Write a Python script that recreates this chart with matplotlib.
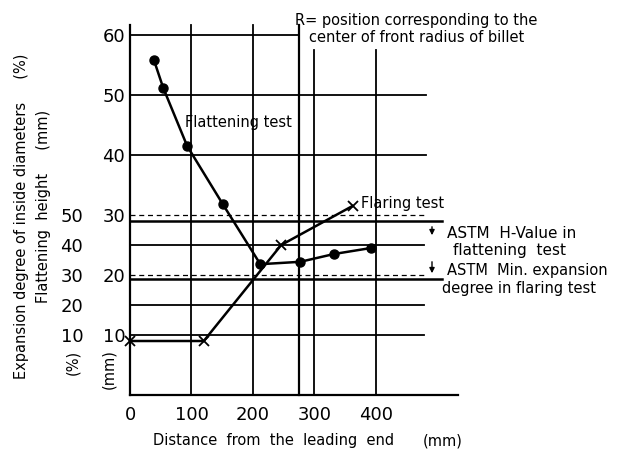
import matplotlib
matplotlib.use("Agg")
import matplotlib.pyplot as plt

# ---------------- data ----------------
flat_x = [39, 54, 93, 151, 212, 277, 332, 392]          # mm from leading end
flat_h = [55.8, 51.2, 41.5, 31.8, 21.8, 22.2, 23.5, 24.5]  # flattening height (mm)
flare_x = [0, 120, 246, 362]
flare_pct = [8, 8, 40, 53]                               # expansion degree (%)

x_ticks = [0, 100, 200, 300, 400]
mm_ticks = [10, 20, 30, 40, 50, 60]
pct_ticks = [10, 20, 30, 40, 50]

r_position = 275          # R = centre of front radius of billet
astm_h_mm = 29.0          # ASTM H-value in flattening test
astm_min_pct = 28.6       # ASTM min. expansion degree in flaring test


def pct_to_mm(p):
    return (p + 10) / 2.0


def mm_to_pct(m):
    return 2.0 * m - 10


W, H = 628, 454
fig = plt.figure(figsize=(W / 100, H / 100), dpi=100)
fig.patch.set_facecolor("white")

x0, x1 = 130, 457          # pixel span of x 0..532
y0, y1 = 395, 35           # pixel span of y 0..60 mm
ax = fig.add_axes([x0 / W, 1 - y0 / H, (x1 - x0) / W, (y0 - y1) / H])
ax.set_xlim(0, 532)
ax.set_ylim(0, 60)
for s in ax.spines.values():
    s.set_visible(False)

K = "black"
glw = 1.3
# frame lines
ax.plot([0, 0], [0, 61.7], color=K, lw=1.6, clip_on=False)
ax.plot([0, 533], [0, 0], color=K, lw=1.6, clip_on=False)
# vertical grid
for xv, top in [(100, 61.7), (200, 61.7), (300, 57.5), (400, 57.5)]:
    ax.plot([xv, xv], [0, top], color=K, lw=glw, clip_on=False)
ax.plot([r_position, r_position], [0, 61.7], color=K, lw=1.6, clip_on=False)
# horizontal grid
ax.plot([0, r_position], [60, 60], color=K, lw=glw, clip_on=False)
for yv, right in [(50, 482), (40, 482), (25, 478), (15, 479), (10, 479)]:
    ax.plot([0, right], [yv, yv], color=K, lw=glw, clip_on=False)
for yv in [30, 20]:
    ax.plot([0, 480], [yv, yv], color=K, lw=0.9, ls=(0, (4, 3)), clip_on=False)
# ASTM lines
ax.plot([0, 508], [astm_h_mm, astm_h_mm], color=K, lw=1.8, clip_on=False)
ax.plot([0, 508], [pct_to_mm(astm_min_pct)] * 2, color=K, lw=1.8, clip_on=False)

# flattening test
ax.plot(flat_x, flat_h, color=K, lw=1.8, zorder=3, clip_on=False)
ax.plot(flat_x, flat_h, ls="none", marker="o", ms=6.5, color=K, zorder=4, clip_on=False)

# flaring test
flare_mm = [pct_to_mm(p) for p in flare_pct]
ax.plot(flare_x, flare_mm, color=K, lw=1.8, zorder=3, clip_on=False)
ax.plot(flare_x, flare_mm, ls="none", marker="x", ms=6.5, mew=1.3,
        color=K, zorder=5, clip_on=False)

# ticks
ax.set_xticks(x_ticks)
ax.set_xticklabels([str(v) for v in x_ticks], fontsize=13)
ax.set_yticks(mm_ticks)
ax.set_yticklabels([str(v) for v in mm_ticks], fontsize=13)
ax.tick_params(axis="both", length=0)
ax.tick_params(axis="x", pad=8)
ax.tick_params(axis="y", pad=3.5)

sec = ax.secondary_yaxis((88 - x0) / (x1 - x0), functions=(mm_to_pct, pct_to_mm))
sec.set_yticks(pct_ticks)
sec.set_yticklabels([str(v) for v in pct_ticks], fontsize=13)
sec.tick_params(length=0, pad=3.5)
sec.spines["left"].set_visible(False)


def ft(px, py, s, **kw):
    kw.setdefault("fontsize", 10)
    kw.setdefault("va", "center")
    fig.text(px / W, 1 - py / H, s, **kw)


ft(73, 362, "(%)", rotation=90, ha="center", fontsize=10.5)
ft(109, 369, "(mm)", rotation=90, ha="center", fontsize=10.5)
ft(22, 216, "Expansion degree of inside diameters     (%)", rotation=90,
   ha="center", fontsize=10.5)
ft(44, 206, "Flattening  height     (mm)", rotation=90, ha="center", fontsize=10.5)
ft(153, 441, "Distance  from  the  leading  end", ha="left", fontsize=10.5)
ft(423, 441, "(mm)", ha="left", fontsize=10.5)

ft(185, 123, "Flattening test", ha="left", fontsize=10.5)
ft(361, 203, "Flaring test", ha="left", fontsize=10.5)
ft(295, 20, "R= position corresponding to the", ha="left", fontsize=10.5)
ft(309, 37, "center of front radius of billet", ha="left", fontsize=10.5)
ft(447, 233, "ASTM  H-Value in", ha="left", fontsize=11)
ft(453, 250, "flattening  test", ha="left", fontsize=11)
ft(447, 271, "ASTM  Min. expansion", ha="left", fontsize=10.5)
ft(442, 289, "degree in flaring test", ha="left", fontsize=10.5)

for ya, yb in [(224, 238), (259, 276)]:
    fig.add_artist(matplotlib.patches.FancyArrowPatch(
        (432 / W, 1 - ya / H), (432 / W, 1 - yb / H),
        transform=fig.transFigure, arrowstyle="-|>,head_length=3,head_width=1.5",
        color=K, lw=1.0, mutation_scale=1))

fig.savefig("out.png", dpi=100, facecolor="white")
